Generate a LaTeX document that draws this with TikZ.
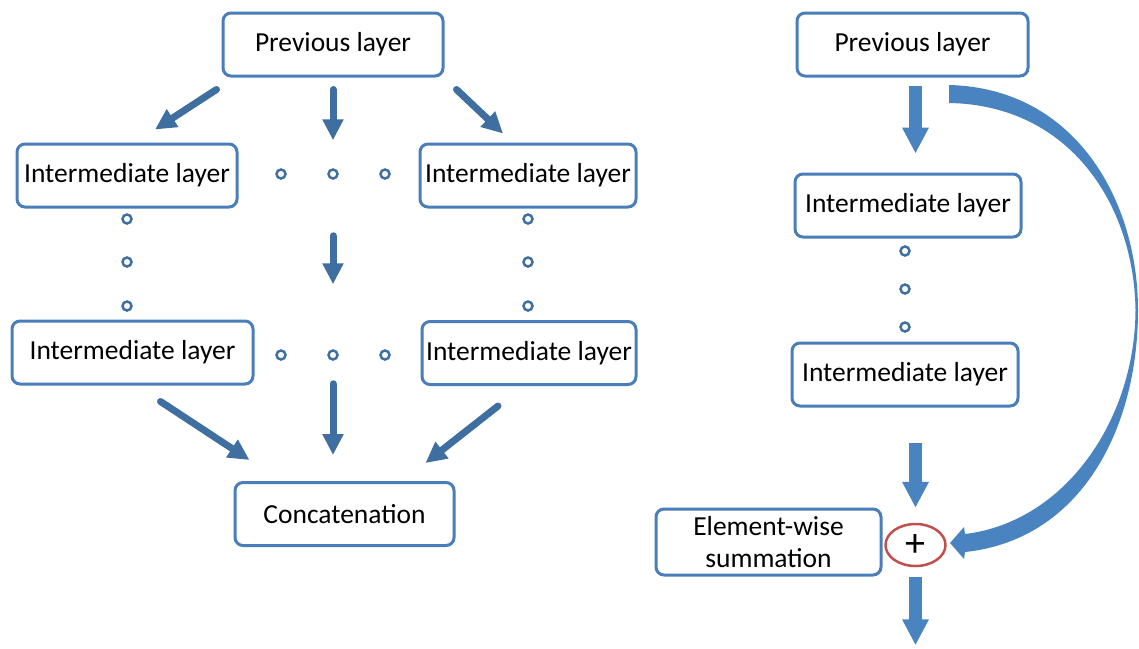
\documentclass[tikz,border=0pt]{standalone}
\usepackage{fontspec}
\setmainfont{Carlito}
\usetikzlibrary{arrows.meta,calc,shapes.geometric}

\definecolor{boxblue}{HTML}{4A7EBB}
\definecolor{darkblue}{HTML}{3F6FA0}
\definecolor{lightblue}{HTML}{4A84C0}
\definecolor{sumred}{HTML}{C0504D}

\tikzset{
    layer/.style={draw=boxblue, line width=3pt, rounded corners=8pt, fill=white,
        minimum height=63pt, inner sep=2pt, font=\fontsize{27.5}{32}\selectfont},
    gapdot/.style={circle, draw=darkblue, line width=2.5pt, minimum size=9pt, inner sep=0pt},
    thinarrow/.style={draw=darkblue, line width=7pt, line cap=round,
        -{Triangle[width=20pt,length=21pt]}},
    widearrow/.style={draw=lightblue, line width=13pt,
        -{Triangle[width=25pt,length=26pt]}},
}

\begin{document}
\begin{tikzpicture}[x=1pt,y=-1pt]
    \useasboundingbox (0,0) rectangle (1139,648);

    % Left: concatenation
    \node[layer, minimum width=220pt] (prevL)  at (333,44.5)  {Previous layer};
    \node[layer, minimum width=220pt] (intL1)  at (127,175.5) {Intermediate layer};
    \node[layer, minimum width=216pt] (intR1)  at (528,175.5) {Intermediate layer};
    \node[layer, minimum width=241pt] (intL2)  at (132.5,352.5) {Intermediate layer};
    \node[layer, minimum width=214pt] (intR2)  at (529,353)   {Intermediate layer};
    \node[layer, minimum width=219pt] (concat) at (344.5,514) {Concatenation};

    % Dots
        %rows
        \node[gapdot] (dA1) at (281,174) {};
        \node[gapdot] (dA2) at (333,174) {};
        \node[gapdot] (dA3) at (385,174) {};
        \node[gapdot] (dB1) at (281,355) {};
        \node[gapdot] (dB2) at (333,355) {};
        \node[gapdot] (dB3) at (385,355) {};
        %columns
        \node[gapdot] (dL1) at (127,219) {};
        \node[gapdot] (dL2) at (127,262) {};
        \node[gapdot] (dL3) at (127,306) {};
        \node[gapdot] (dR1) at (528,219) {};
        \node[gapdot] (dR2) at (528,262) {};
        \node[gapdot] (dR3) at (528,306) {};

    % Arrows
    \draw[thinarrow] ($(prevL.south west)+(-5,12)$) -- ($(intL1.north)+(28,-13)$);
    \draw[thinarrow, shorten <=12pt, shorten >=28pt] (prevL.south) -- (dA2);
    \draw[thinarrow] ($(prevL.south east)+(12,12)$) -- ($(intR1.north)+(-25,-9)$);
    \draw[thinarrow, shorten <=56pt, shorten >=65pt] (dA2) -- (dB2);
    \draw[thinarrow, shorten <=23pt, shorten >=26pt] (dB2) -- (dB2 |- concat.north);
    \draw[thinarrow] ($(intL2.south)+(28,16)$) -- ($(concat.north west)+(16,-21)$);
    \draw[thinarrow] ($(intR2.south)+(-31,20)$) -- ($(concat.north east)+(-30,-18)$);


    % Right: summation
    \node[layer, minimum width=231pt] (prevR) at (912.5,44.5) {Previous layer};
    \node[layer, minimum width=226pt] (rint1) at (908,205.5)  {Intermediate layer};
    \node[layer, minimum width=226pt] (rint2) at (905,374.5)  {Intermediate layer};
    \node[layer, minimum width=225pt, minimum height=66pt, align=center] (elem) at (768.5,542)
        {Element-wise\\summation};
    \node[ellipse, draw=sumred, line width=2.5pt, minimum width=60pt, minimum height=42pt,
        inner sep=0pt, font=\fontsize{40}{40}\selectfont] (sum) at (915.5,545) {+};

    \node[gapdot] (dS1) at (905,251) {};
    \node[gapdot] (dS2) at (905,289) {};
    \node[gapdot] (dS3) at (905,327) {};

    \coordinate (out) at ($(sum.south)+(0,80)$);

    \draw[widearrow, shorten <=8pt, shorten >=19pt] (sum |- prevR.south) -- (sum |- rint1.north);
    \draw[widearrow, shorten <=35pt, shorten >=15pt] (sum |- rint2.south) -- (sum.north);
    \draw[widearrow, shorten <=10pt, shorten >=2pt] (sum.south) -- (out);

    % Skip connection
    \fill[lightblue] (949,85) .. controls (1075,88) and (1138,200) .. (1138,310)
        .. controls (1138,430) and (1080,540) .. (965,552) -- (964,559) -- (950,543)
        -- (964,527) -- (965,534)
        .. controls (1065,522) and (1135,420) .. (1135.5,310)
        .. controls (1134,205) and (1070,105) .. (949,103) -- cycle;

\end{tikzpicture}
\end{document}
